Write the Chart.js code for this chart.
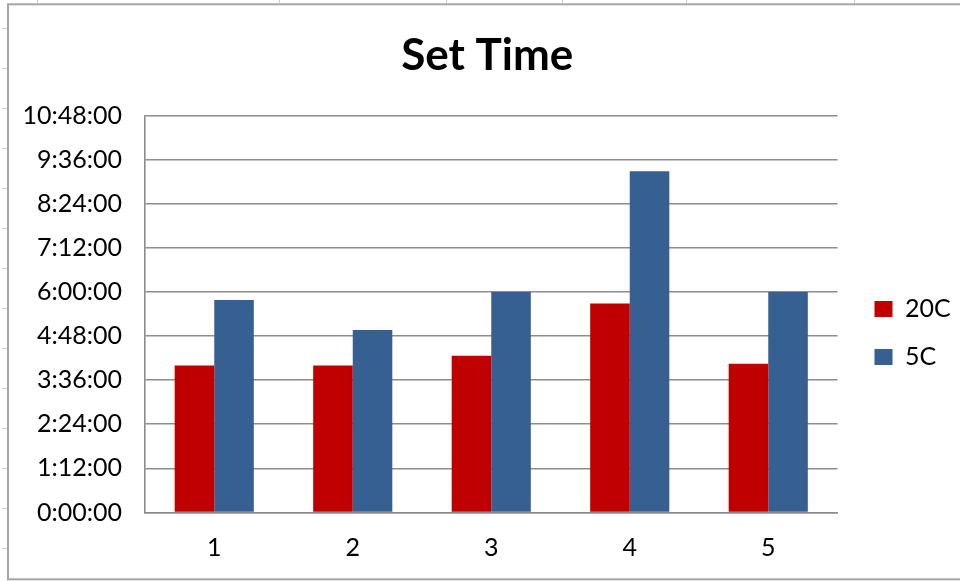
<!DOCTYPE html>
<html>
<head>
<meta charset="utf-8">
<title>Set Time</title>
<script src="https://cdn.jsdelivr.net/npm/chart.js@4"></script>
<style>
  html, body { margin: 0; padding: 0; background: #ffffff; }
  #wrap { width: 960px; height: 581px; }
</style>
</head>
<body>
<div id="wrap"><canvas id="chart" width="960" height="581"></canvas></div>
<script>
// Sample numbers on the category axis
const categories = ['1', '2', '3', '4', '5'];

// Set times, in minutes
const series20C = [240, 240, 256, 341, 243];
const series5C = [347, 298, 360, 557, 360];

// Value axis labels, one per 72-minute step
const yTickLabels = ['0:00:00', '1:12:00', '2:24:00', '3:36:00', '4:48:00',
                     '6:00:00', '7:12:00', '8:24:00', '9:36:00', '10:48:00'];

const FONT = 'Lato, "Open Sans", "Liberation Sans", sans-serif';

// Worksheet frame around the chart object
const sheetFrame = {
  id: 'sheetFrame',
  beforeDraw(chart) {
    const ctx = chart.ctx;
    ctx.save();
    ctx.fillStyle = '#ffffff';
    ctx.fillRect(0, 0, chart.width, chart.height);
    ctx.strokeStyle = '#c4cbdb';
    ctx.lineWidth = 1;
    for (let y = 28; y < chart.height; y += 40) {
      ctx.beginPath();
      ctx.moveTo(2, y + 0.5);
      ctx.lineTo(7, y + 0.5);
      ctx.stroke();
    }
    [37, 279, 446, 562, 686, 854].forEach(x => {
      ctx.beginPath();
      ctx.moveTo(x + 0.5, 0);
      ctx.lineTo(x + 0.5, 3);
      ctx.stroke();
    });
    ctx.strokeStyle = '#a6a6a6';
    ctx.lineWidth = 2;
    ctx.strokeRect(8, 4.3, chart.width + 20, 575);
    ctx.restore();
  }
};

// Places the series key beside the plot and centres the title over the chart object
const blockPlacement = {
  id: 'blockPlacement',
  afterLayout(chart) {
    const lg = chart.legend;
    const area = chart.chartArea;
    const w = lg.width;
    lg.left = area.right + 14;
    lg.right = lg.left + w;
    lg.top = 273.5;
    if (chart.titleBlock) {
      chart.titleBlock.left += 37;
    }
  }
};

new Chart(document.getElementById('chart'), {
  type: 'bar',
  data: {
    labels: categories,
    datasets: [
      { label: '20C', data: series20C, backgroundColor: '#c00000', borderWidth: 0 },
      { label: '5C', data: series5C, backgroundColor: '#366092', borderWidth: 0 }
    ]
  },
  options: {
    responsive: false,
    animation: false,
    layout: { padding: { left: 0, right: 22.5, top: 0, bottom: 0 } },
    datasets: { bar: { categoryPercentage: 2 / 3.5, barPercentage: 1 } },
    plugins: {
      title: {
        display: true,
        text: 'Set Time',
        color: '#000000',
        font: { family: FONT, size: 44, weight: 'bold', lineHeight: 1.2 },
        padding: { top: 29, bottom: 33.7 }
      },
      legend: {
        display: true,
        position: 'right',
        align: 'start',
        maxWidth: 100,
        labels: {
          boxWidth: 18,
          boxHeight: 16,
          padding: 23,
          color: '#000000',
          font: { family: FONT, size: 25 }
        }
      },
      tooltip: { enabled: false }
    },
    scales: {
      x: {
        grid: { display: false, drawTicks: false },
        border: { display: true, color: '#8c8c8c', width: 1.6 },
        ticks: { color: '#000000', font: { family: FONT, size: 25 }, padding: 20 },
        afterFit(scale) { scale.height = 68.5; }
      },
      y: {
        min: 0,
        max: 648,
        grid: { color: '#8c8c8c', lineWidth: 1.6, drawTicks: false },
        border: { display: true, color: '#8c8c8c', width: 1.6 },
        ticks: {
          stepSize: 72,
          padding: 23,
          color: '#000000',
          font: { family: FONT, size: 25 },
          callback: (value, index) => yTickLabels[index]
        },
        afterFit(scale) { scale.width = 145; }
      }
    }
  },
  plugins: [sheetFrame, blockPlacement]
});
</script>
</body>
</html>
